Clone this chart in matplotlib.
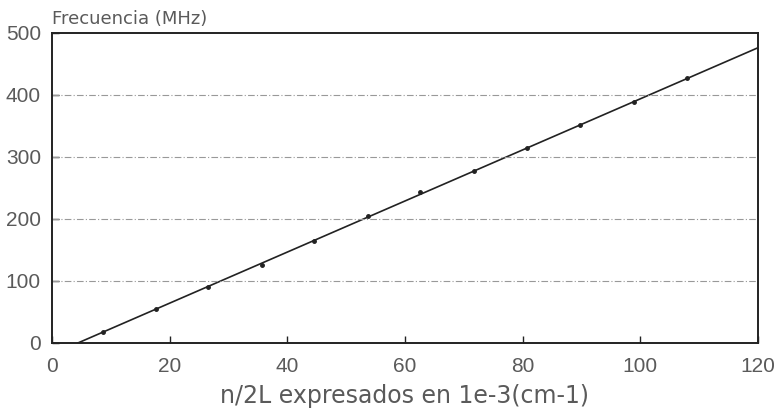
"""
Frecuencia frente a n/2L con recta de ajuste.
"""
import matplotlib
matplotlib.use("Agg")
import matplotlib.pyplot as plt

# puntos medidos
inv_2l = [8.7, 17.7, 26.5, 35.7, 44.6, 53.7, 62.6, 71.7, 80.7, 89.8, 98.9, 107.9]
freq = [18, 55, 91, 125, 165, 204, 243, 278, 314, 351, 388, 427]

# recta de ajuste (extremos)
fit_x = [4.4, 120]
fit_y = [0, 476]

x_ticks = [0, 20, 40, 60, 80, 100, 120]
y_ticks = [0, 100, 200, 300, 400, 500]

ink = "#222222"
txt = "#5a5a5a"

plt.rcParams["font.family"] = ["Liberation Sans", "DejaVu Sans"]

fig = plt.figure(figsize=(7.74, 4.12), dpi=100)
ax = fig.add_axes([0.0672, 0.1675, 0.9118, 0.7525])

ax.plot(fit_x, fit_y, color=ink, lw=1.2)
ax.plot(inv_2l, freq, ls="none", marker="o", ms=2.5, color=ink)

ax.set_xlim(0, 120)
ax.set_ylim(0, 500)
ax.set_xticks(x_ticks)
ax.set_yticks(y_ticks)
ax.tick_params(direction="in", length=5, width=1, colors=ink, labelcolor=txt,
               labelsize=15)
ax.tick_params(axis="x", pad=10)
ax.tick_params(axis="y", pad=8)
for sp in ax.spines.values():
    sp.set_color(ink)
    sp.set_linewidth(1.4)

for v in y_ticks[1:-1]:
    ax.axhline(v, color="#999999", lw=0.8, ls=(0, (6, 2, 1, 2)))

ax.set_xlabel("n/2L expresados en 1e-3(cm-1)", fontsize=17, color=txt, labelpad=6,
              family=["DejaVu Sans"])
fig.text(0.067, 0.942, "Frecuencia (MHz)", fontsize=13, color=txt, ha="left",
         va="baseline", family=["DejaVu Sans"])

fig.savefig("out.png", dpi=100)
